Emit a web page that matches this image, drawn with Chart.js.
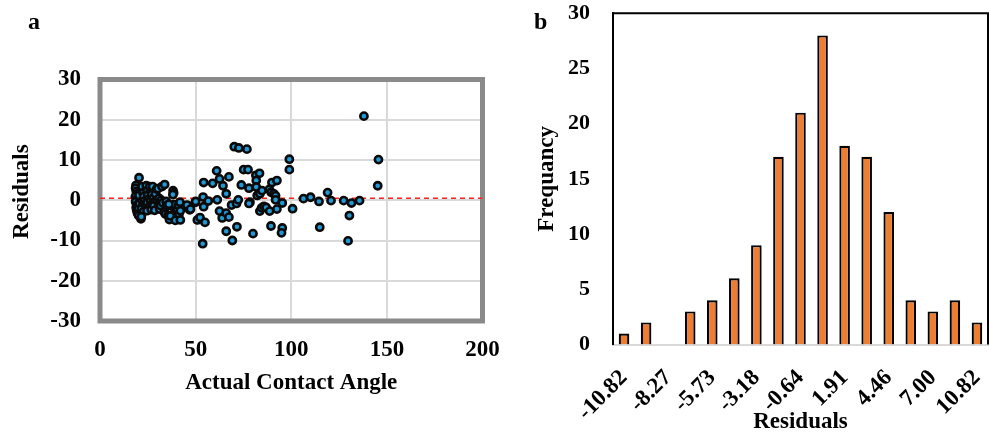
<!DOCTYPE html>
<html><head><meta charset="utf-8">
<script src="https://cdn.jsdelivr.net/npm/chart.js@4.4.0/dist/chart.umd.min.js"></script>
<style>
html,body{margin:0;padding:0;background:#fff;}
#wrap{position:relative;width:989px;height:434px;overflow:hidden;background:#fff;}
canvas{position:absolute;top:0;}
#ca{left:0;width:500px;height:434px;}
#cb{left:500px;width:489px;height:434px;}
.lab{position:absolute;font:bold 24px "Liberation Serif",serif;line-height:24px;color:#000;}
</style></head><body>
<div id="wrap">
<canvas id="ca" width="500" height="434"></canvas>
<canvas id="cb" width="489" height="434"></canvas>
<div class="lab" style="left:28px;top:9px">a</div>
<div class="lab" style="left:534px;top:9px">b</div>
</div>
<script>
// ---------- Panel a: residuals vs actual contact angle ----------
const actualAngle = [
 20.4,18.8,18.6,19.0,19.4,18.5,19.2,18.6,19.5,18.9,19.2,19.6,20.2,21.4,20.0,20.6,21.0,20.4,21.8,22.0,
 22.6,22.8,23.2,22.4,21.6,22.8,21.6,23.8,24.2,24.6,24.9,25.2,24.8,25.5,24.6,26.3,26.0,27.0,26.5,27.2,
 26.8,27.5,28.0,28.4,28.1,28.6,29.0,29.6,29.8,30.3,30.8,30.6,31.2,31.6,32.4,32.0,32.8,33.8,33.6,34.2,
 34.6,35.0,35.6,36.3,36.8,37.6,38.2,38.5,38.1,38.7,39.4,39.8,40.4,41.1,41.3,42.0,42.0,41.8,45.1,46.9,
 45.5,36.0,47.3,49.9,
 50.0,50.9,52.3,53.9,54.2,54.2,54.9,53.7,56.6,58.9,61.0,61.3,62.5,62.5,64.3,63.9,66.0,66.0,66.0,67.4,
 67.4,69.2,68.8,70.2,72.6,76.8,71.4,72.3,71.6,73.9,75.1,77.4,77.9,78.4,77.9,80.0,81.5,83.4,81.7,81.7,
 82.2,83.6,84.7,83.6,84.5,85.7,86.9,88.7,88.5,89.5,89.9,90.9,92.5,91.8,91.8,92.5,89.4,95.3,95.3,94.9,
 99.0,99.0,100.7,106.4,110.1,114.5,114.9,119.0,120.8,127.4,131.5,130.4,129.7,135.7,138.0,145.6,145.2
];
const residuals = [
 5.6,3.7,3.0,2.2,1.6,0.9,0.2,-0.4,-1.1,-1.8,-2.5,-3.2,-3.8,-4.6,-2.0,-0.8,0.5,1.2,2.6,3.4,
 1.8,0.9,-0.2,-1.2,-2.2,-2.8,-4.1,-0.9,3.6,2.4,1.2,0.2,-0.6,-1.75,-2.6,2.4,3.4,1.4,-0.2,-1.0,
 -2.3,3.4,0.6,-0.4,-1.4,-2.5,1.6,2.8,-0.1,2.9,0.5,-1.2,-2.2,-1.3,3.4,0.0,-0.6,3.9,-2.9,-3.4,
 -0.3,-1.3,-3.8,-4.8,-3.9,-1.5,2.4,1.8,1.4,-1.1,-5.0,-2.6,-2.2,-1.3,-3.4,-2.6,-4.9,-0.5,-1.6,-2.4,
 -1.2,-1.0,-2.2,-0.5,
 -0.3,-4.9,-4.3,0.8,4.4,-1.6,-5.5,-10.8,-0.2,4.2,7.3,0.1,5.3,-2.7,3.6,-4.4,1.6,-3.2,-7.7,5.8,
 -4.2,-10.0,-1.2,13.3,13.0,12.7,-0.8,0.1,-6.6,3.8,7.6,7.6,3.0,-0.5,-0.8,-8.3,6.2,6.7,4.9,3.3,
 1.2,1.6,2.4,-2.7,-1.9,-1.5,-1.8,-2.7,2.7,2.0,4.4,1.6,4.9,1.1,0.1,-2.2,-6.4,-0.7,-6.9,-8.1,
 10.2,7.6,-2.1,0.4,0.75,-0.3,-6.7,1.9,-0.1,-0.1,-0.7,-3.8,-10.1,-0.1,20.9,10.1,3.6
];
const refLineX = [0, 200];
const refLineY = [0.5, 0.5];
const xTicksA = [0, 50, 100, 150, 200];
const yTicksA = [-30, -20, -10, 0, 10, 20, 30];

// ---------- Panel b: histogram of residuals ----------
const binLabels = ["-10.82","-9.55","-8.27","-7.00","-5.73","-4.46","-3.18","-1.91","-0.64",
                   "0.64","1.91","3.18","4.46","5.73","7.00","8.27","10.82"];
const frequency = [1,2,0,3,4,6,9,17,21,28,18,17,12,4,3,4,2];
const yTicksB = [0, 5, 10, 15, 20, 25, 30];

Chart.defaults.color = '#000';
Chart.defaults.font.family = '"Liberation Serif", "Times New Roman", serif';
const F = (s) => ({family:'"Liberation Serif", "Times New Roman", serif', size:s, weight:'bold'});
const F1 = (s) => ({family:'"Liberation Serif", "Times New Roman", serif', size:s, weight:'bold', lineHeight:1});

const frameA = {
  id:'frameA',
  beforeDatasetsDraw(chart){
    const {ctx, chartArea:{left,top,right,bottom}} = chart;
    ctx.save();
    ctx.strokeStyle = '#8a8a8a';
    ctx.lineWidth = 5;
    ctx.strokeRect(left, top, right-left, bottom-top);
    ctx.restore();
  }
};

new Chart(document.getElementById('ca'), {
  type:'scatter',
  data:{
    datasets:[
      {type:'line', data: refLineX.map((x,i)=>({x, y:refLineY[i]})), borderColor:'#ff2020',
       borderWidth:1.5, borderDash:[5,4], pointRadius:0, fill:false, order:2},
      {data: actualAngle.map((x,i)=>({x, y:residuals[i]})), pointRadius:3.6, pointBorderWidth:2.6,
       borderColor:'#000', backgroundColor:'#1f9ad6', pointBackgroundColor:'#1f9ad6', pointBorderColor:'#0a0a0a', order:1}
    ]
  },
  options:{
    responsive:false, animation:false,
    plugins:{legend:{display:false}, tooltip:{enabled:false}},
    layout:{padding:{top:79.5, right:17.5, bottom:0, left:0}},
    scales:{
      x:{type:'linear', min:xTicksA[0], max:xTicksA[xTicksA.length-1],
         afterBuildTicks(s){ s.ticks = xTicksA.map(v=>({value:v})); },
         ticks:{padding:15, font:F(23), color:'#000'},
         grid:{color:'#d9d9d9', lineWidth:2, drawTicks:false},
         border:{display:false},
         title:{display:true, text:'Actual Contact Angle', font:F1(23), color:'#000', padding:{top:0,bottom:39.5}},
         afterFit(s){ s.height = 113; s.paddingLeft = 0; s.paddingRight = 0; }
      },
      y:{type:'linear', min:yTicksA[0], max:yTicksA[yTicksA.length-1],
         afterBuildTicks(s){ s.ticks = yTicksA.map(v=>({value:v})); },
         ticks:{padding:19, font:F(23), color:'#000'},
         grid:{color:'#d9d9d9', lineWidth:2, drawTicks:false},
         border:{display:false},
         title:{display:true, text:'   Residuals', font:F1(23), color:'#000', padding:{top:10.5,bottom:0}},
         afterFit(s){ s.width = 100; s.paddingTop = 0; s.paddingBottom = 0; }
      }
    }
  },
  plugins:[frameA]
});

const frameB = {
  id:'frameB',
  afterDraw(chart){
    const {ctx, chartArea:{left,top,right,bottom}} = chart;
    ctx.save();
    ctx.strokeStyle = '#000';
    ctx.lineWidth = 2;
    ctx.beginPath();
    ctx.moveTo(left, top); ctx.lineTo(right, top); ctx.lineTo(right, bottom);
    ctx.stroke();
    ctx.restore();
  }
};

new Chart(document.getElementById('cb'), {
  type:'bar',
  data:{
    labels: binLabels,
    datasets:[{data: frequency, backgroundColor:'#ed7d31', borderColor:'#000', borderWidth:2.2,
               barPercentage:0.48, categoryPercentage:1.0}]
  },
  options:{
    responsive:false, animation:false,
    plugins:{legend:{display:false}, tooltip:{enabled:false}},
    layout:{padding:{top:13.3, right:1, bottom:0, left:0}},
    scales:{
      x:{grid:{display:false, drawTicks:false},
         border:{display:true, color:'#d9d9d9', width:2},
         ticks:{autoSkip:false, minRotation:45, maxRotation:45, padding:20, font:F(23), color:'#000',
                callback:(v,i)=> (i % 2 === 0 ? binLabels[i] : '')},
         title:{display:true, text:'Residuals', font:F1(23), color:'#000', padding:{top:0,bottom:0}},
         afterFit(s){ s.height = 89.5; s.paddingLeft = 0; s.paddingRight = 0; }
      },
      y:{min:yTicksB[0], max:yTicksB[yTicksB.length-1],
         afterBuildTicks(s){ s.ticks = yTicksB.map(v=>({value:v})); },
         grid:{display:false, drawTicks:false},
         border:{display:true, color:'#000', width:2},
         ticks:{padding:23, font:F(22), color:'#000'},
         title:{display:true, text:'Frequancy', font:F1(23), color:'#000', padding:{top:35.5,bottom:0}},
         afterFit(s){ s.width = 113; s.paddingTop = 0; s.paddingBottom = 0; }
      }
    }
  },
  plugins:[frameB]
});
</script>
</body></html>
